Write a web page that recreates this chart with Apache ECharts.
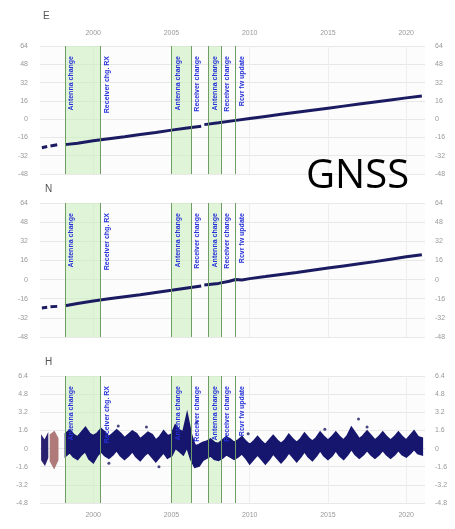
<!DOCTYPE html>
<html>
<head>
<meta charset="utf-8">
<script src="https://cdn.jsdelivr.net/npm/echarts@6/dist/echarts.min.js"></script>
<style>
  html, body { margin: 0; padding: 0; background: #fff; }
  #chart { width: 455px; height: 529px; }
</style>
</head>
<body>
<div id="chart"></div>
<script>
// x axis: decimal years
var yearTicks = [2000, 2005, 2010, 2015, 2020];

// equipment events (vertical lines) and their labels
var eventT = [1998.2, 2000.45, 2004.98, 2006.25, 2007.37, 2008.15, 2009.1];
var eventLabels = ['Antenna change', 'Receiver chg. RX', 'Antenna change', 'Receiver change',
                   'Antenna change', 'Receiver change', 'Rcvr fw update'];
// green shaded spans
var bandFrom = [1998.2, 2004.98, 2007.37];
var bandTo   = [2000.45, 2006.25, 2008.15];

// East (null = gap)
var eT = [1996.72, 1997.06, 1997.16, 1997.27, 1997.7, 1997.95, 1998.2, 1999, 2000, 2001, 2002, 2003, 2004, 2005, 2006, 2006.9, 2007.0,
          2007.1, 2008, 2009, 2010, 2011, 2012, 2013, 2014, 2015, 2016, 2017, 2018, 2019, 2020, 2021];
var eV = [-25.0, -24.0, null, -23.5, -22.4, null, -22.3, -21.0, -19.0, -17.2, -15.4, -13.5, -11.6, -9.6, -7.8, -6.3, null,
          -4.8, -3.2, -1.3, 0.6, 2.4, 4.2, 6.0, 7.8, 9.6, 11.4, 13.2, 15.0, 16.8, 18.6, 20.3];

// North
var nT = [1996.72, 1997.06, 1997.16, 1997.27, 1997.7, 1997.95, 1998.2, 1999, 2000, 2001, 2002, 2003, 2004, 2005, 2006, 2006.9, 2007.0,
          2007.1, 2008, 2008.7, 2009.1, 2009.5, 2010, 2011, 2012, 2013, 2014, 2015, 2016, 2017, 2018, 2019, 2020, 2021];
var nV = [-23.8, -23.2, null, -22.8, -22.4, null, -21.8, -20.0, -18.0, -16.0, -14.3, -12.6, -10.8, -9.0, -7.0, -5.4, null,
          -4.5, -3.2, -1.4, 0.0, -0.3, 0.8, 2.5, 4.3, 6.0, 7.8, 9.6, 11.4, 13.2, 15.0, 17.0, 19.0, 20.8];

// Height: early short blobs
var h0T  = [1996.75, 1996.9, 1997.05];
var h0Hi = [0.9, 0.6, 1.0];
var h0Lo = [-1.0, -1.3, -0.8];
var h1T  = [1997.3, 1997.5, 1997.7];
var h1Hi = [1.2, 1.4, 0.9];
var h1Lo = [-1.1, -1.6, -1.0];
// Height: main record, quarterly upper / lower envelope from 1998.25
var hStart = 1998.25, hStep = 0.25;
var hHi = [1.3, 1.6, 1.2, 1.0, 1.4, 1.8, 1.3, 1.1, 1.3, 1.7, 1.4, 1.0, 1.3, 1.6, 1.3, 0.9,
           1.2, 1.5, 1.3, 0.8, 1.1, 1.4, 1.2, 0.7, 1.0, 1.5, 1.1, 1.2, 2.0, 1.6, 1.4, 2.9,
           1.2, 0.2, 0.3, 0.5, 0.6, 0.8, 0.5, 0.4, 0.7, 1.0, 0.8, 0.5, 0.7, 1.0, 0.6, 0.3,
           0.6, 1.0, 0.6, 0.3, 0.7, 1.1, 0.7, 0.4, 0.7, 1.2, 0.8, 0.5, 0.8, 1.3, 0.9, 0.6,
           0.9, 1.4, 1.0, 0.7, 1.0, 1.4, 1.0, 0.7, 1.1, 1.8, 1.3, 0.8, 1.1, 1.5, 1.1, 0.7,
           1.0, 1.4, 1.0, 0.7, 1.0, 1.4, 1.0, 0.7, 1.1, 1.5, 1.0, 0.9];
var hLo = [-0.6, -0.3, -0.7, -0.9, -0.5, -0.2, -0.9, -1.2, -0.6, -0.2, -0.6, -0.8, -0.5, -0.1, -0.6, -0.9,
           -0.6, -0.2, -0.7, -1.0, -0.6, -0.3, -0.7, -1.1, -0.7, -0.3, -0.8, -0.6, 0.1, -0.2, -0.5, 0.2,
           -0.9, -1.6, -1.5, -1.0, -0.8, -0.6, -0.9, -1.0, -0.8, -0.5, -0.7, -0.9, -0.7, -0.4, -0.8, -1.3,
           -0.9, -0.5, -0.9, -1.3, -0.9, -0.4, -0.8, -1.2, -0.8, -0.3, -0.7, -1.1, -0.7, -0.2, -0.7, -1.0,
           -0.6, -0.1, -0.6, -0.9, -0.6, -0.1, -0.6, -0.9, -0.5, 0.0, -0.5, -0.8, -0.5, -0.1, -0.5, -0.8,
           -0.5, -0.1, -0.5, -0.8, -0.5, -0.1, -0.5, -0.7, -0.4, 0.0, -0.4, -0.5];
// isolated points
var hOutT = [2001.6, 2003.4, 2004.2, 2006.6, 2009.9, 2014.8, 2016.95, 2017.5, 2001.0];
var hOutV = [2.0, 1.9, -1.6, 2.3, 1.3, 1.7, 2.6, 1.9, -1.3];

var myChart = echarts.init(document.getElementById('chart'));

function pairs(T, V) {
    return T.map(function (t, i) { return [t, V[i]]; });
}

// polygon between upper and lower envelope
function envelope(T, Hi, Lo, color) {
    return function (params, api) {
        var pts = [];
        for (var i = 0; i < T.length; i++) pts.push(api.coord([T[i], Hi[i]]));
        for (var j = T.length - 1; j >= 0; j--) pts.push(api.coord([T[j], Lo[j]]));
        return {
            type: 'polygon',
            shape: { points: pts },
            style: { fill: color, stroke: color, lineWidth: 2.5, lineJoin: 'miter' }
        };
    };
}

var hT = hHi.map(function (v, i) { return hStart + i * hStep; });

var grids = [
    { left: 40, right: 30, top: 46, height: 128 },
    { left: 40, right: 30, top: 203, height: 134 },
    { left: 40, right: 30, top: 376, height: 127 }
];
grids.forEach(function (g) { g.show = true; g.backgroundColor = '#fcfcfc'; g.borderWidth = 0; });

var axisFont = { color: '#999', fontSize: 7, fontFamily: 'Liberation Sans' };

function xAxisFor(i, pos, showLabel) {
    return {
        type: 'value', gridIndex: i, min: 1996.6, max: 2021.2, position: pos,
        axisLine: { show: false },
        axisTick: { show: false, customValues: yearTicks },
        axisLabel: Object.assign({
            show: showLabel, customValues: yearTicks, margin: 9,
            formatter: function (v) { return String(v); }
        }, axisFont),
        splitLine: { show: true, lineStyle: { color: '#eeeeee' } }
    };
}
function yAxisFor(i, pos, min, max, step, showSplit) {
    return {
        type: 'value', gridIndex: i, min: min, max: max, interval: step, position: pos,
        axisLine: { show: false }, axisTick: { show: false },
        axisLabel: Object.assign({ margin: pos === 'left' ? 12 : 10 }, axisFont),
        splitLine: { show: showSplit, lineStyle: { color: '#e8e8e8' } }
    };
}

// marks: green bands + labelled vertical lines
var marks = {
    markArea: {
        silent: true,
        itemStyle: { color: 'rgba(200, 238, 185, 0.55)' },
        data: bandFrom.map(function (a, i) { return [{ xAxis: a }, { xAxis: bandTo[i] }]; })
    },
    markLine: {
        silent: true, symbol: 'none',
        lineStyle: { color: '#6f9d66', width: 1, type: 'solid' },
        label: {
            show: true, position: 'insideEndBottom', distance: [10, 3],
            formatter: '{b}', color: '#2430d8', fontSize: 7, fontWeight: 'bold',
            fontFamily: 'Liberation Sans'
        },
        data: eventT.map(function (t, i) { return { xAxis: t, name: eventLabels[i] }; })
    }
};

var lineColor = '#1b1b62';

var option = {
    animation: false,
    backgroundColor: '#ffffff',
    title: [
        { text: 'E', left: 38, top: 6 },
        { text: 'N', left: 40, top: 179 },
        { text: 'H', left: 40, top: 352 }
    ].map(function (t) {
        t.textStyle = { fontSize: 10, color: '#555', fontWeight: 'normal', fontFamily: 'Liberation Sans' };
        return t;
    }),
    graphic: [{
        type: 'text', left: 306, top: 157, z: 100,
        style: { text: 'GNSS', fill: '#000', font: '40px "Open Sans"' }
    }],
    grid: grids,
    xAxis: [xAxisFor(0, 'top', true), xAxisFor(1, 'bottom', false), xAxisFor(2, 'bottom', true)],
    yAxis: [
        yAxisFor(0, 'left', -48, 64, 16, true), yAxisFor(0, 'right', -48, 64, 16, false),
        yAxisFor(1, 'left', -48, 64, 16, true), yAxisFor(1, 'right', -48, 64, 16, false),
        yAxisFor(2, 'left', -4.8, 6.4, 1.6, true), yAxisFor(2, 'right', -4.8, 6.4, 1.6, false)
    ],
    series: [
        Object.assign({
            name: 'E', type: 'line', xAxisIndex: 0, yAxisIndex: 0, data: pairs(eT, eV),
            symbol: 'none', connectNulls: false,
            lineStyle: { color: lineColor, width: 3 }
        }, marks),
        Object.assign({
            name: 'N', type: 'line', xAxisIndex: 1, yAxisIndex: 2, data: pairs(nT, nV),
            symbol: 'none', connectNulls: false,
            lineStyle: { color: lineColor, width: 3 }
        }, marks),
        Object.assign({
            name: 'H', type: 'custom', xAxisIndex: 2, yAxisIndex: 4,
            renderItem: envelope(hT, hHi, hLo, '#16166e'),
            data: [[hT[0], hHi[0]]], clip: true
        }, marks),
        {
            type: 'custom', xAxisIndex: 2, yAxisIndex: 4,
            renderItem: envelope(h0T, h0Hi, h0Lo, '#2a2070'),
            data: [[h0T[0], h0Hi[0]]]
        },
        {
            type: 'custom', xAxisIndex: 2, yAxisIndex: 4,
            renderItem: envelope(h1T, h1Hi, h1Lo, '#b07a7a'),
            data: [[h1T[0], h1Hi[0]]]
        },
        {
            type: 'scatter', xAxisIndex: 2, yAxisIndex: 4, data: pairs(hOutT, hOutV),
            symbolSize: 3, itemStyle: { color: '#1b1b62' }
        }
    ]
};

myChart.setOption(option);
window.addEventListener('resize', function () { myChart.resize(); });
</script>
</body>
</html>
